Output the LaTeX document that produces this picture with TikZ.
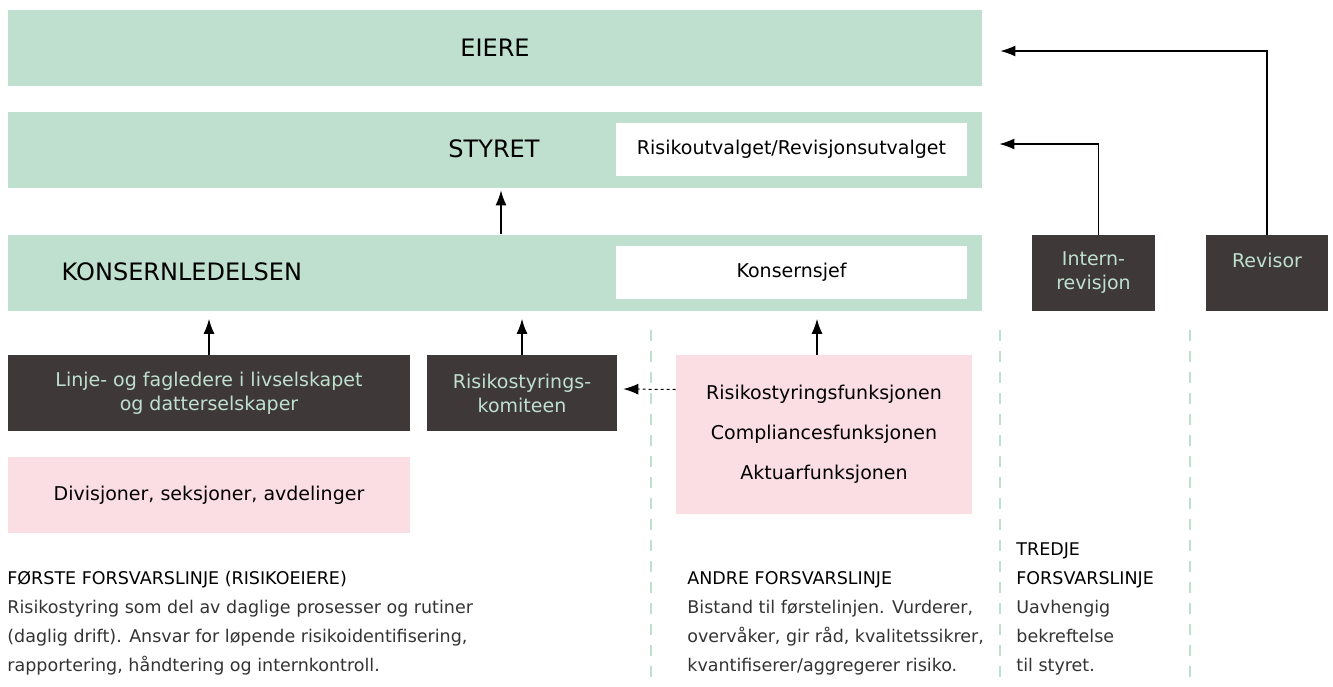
\documentclass[tikz,border=0pt]{standalone}
\usepackage{fontspec}
\setmainfont{DejaVu Sans}
\usetikzlibrary{positioning, arrows.meta}
\definecolor{mint}{RGB}{191,224,207}
\definecolor{coal}{RGB}{62,57,56}
\definecolor{blush}{RGB}{250,222,227}

\begin{document}
\begin{tikzpicture}[x=1pt,y=-1pt,thick]

\tikzstyle{band}=[rectangle, fill=mint, minimum width=974pt, minimum height=76pt, inner sep=0]
\tikzstyle{inner}=[rectangle, fill=white, text=black, minimum width=351pt, minimum height=53pt, font=\fontsize{19}{22}\selectfont]
\tikzstyle{dark}=[rectangle, fill=coal, text=mint, minimum height=76pt, align=center, font=\fontsize{19}{24}\selectfont]
\tikzstyle{pinkbox}=[rectangle, fill=blush, text=black, align=center, font=\fontsize{19}{40}\selectfont]
\tikzstyle{head}=[text=black, font=\fontsize{24}{28}\selectfont]
\tikzstyle{note}=[anchor=base west, align=left, inner sep=0, text=black!80, font=\fontsize{17.5}{29}\selectfont]
\tikzstyle{arr}=[-{Latex[length=15pt,width=11pt]}, line width=1.2pt, black]
\tikzstyle{lane}=[mint, line width=2pt, dash pattern=on 11pt off 10pt]

  \useasboundingbox (0,0) rectangle (1333,686);

	% Bands
	\node[band] (eiere) at (495,48) {};
	\node[head] at (495,48) {EIERE};

	\node[band] (styret) at (495,150) {};
	\node[head] at (494,149) {STYRET};
	\node[inner] (utvalg) at (791.5,149.5) {Risikoutvalget/Revisjonsutvalget};

	\node[band] (konsern) at (495,272.5) {};
	\node[head, anchor=west] at (58,272) {KONSERNLEDELSEN};
	\node[inner] (sjef) at (791.5,272) {Konsernsjef};

	% Control bodies
	\node[dark, minimum width=123pt] (intern) at (1093.5,273) {Intern-\\revisjon};
	\node[dark, minimum width=122pt] (revisor) at (1267,273) {};
	\node[text=mint, font=\fontsize{19}{24}\selectfont, anchor=base] at ([yshift=-33pt]revisor.north) {Revisor};

	% First and second line
	\node[dark, minimum width=402pt] (linje) at (209,393) {Linje- og fagledere i livselskapet\\og datterselskaper};
	\node[dark, minimum width=190pt] (komite) at (522,393) {Risikostyrings-\\komiteen};
	\node[pinkbox, minimum width=296pt, minimum height=159pt] (funk) at (824,434.5) {Risikostyringsfunksjonen\\Compliancesfunksjonen\\Aktuarfunksjonen};
	\node[pinkbox, minimum width=402pt, minimum height=76pt] (divisjon) at (209,495) {Divisjoner, seksjoner, avdelinger};

	% Lane separators
	\draw[lane] (651,330) -- (651,686);
	\draw[lane] (1000,330) -- (1000,686);
	\draw[lane] (1190,330) -- (1190,686);

	% Reporting lines
	\draw[arr] ([xshift=6pt]konsern.north) -- ([xshift=6pt,yshift=-2pt]styret.south);
	\draw[arr] (linje.north) -- ([yshift=-8pt]linje.north |- konsern.south);
	\draw[arr] (komite.north) -- ([yshift=-8pt]komite.north |- konsern.south);
	\draw[arr] ([xshift=-7pt]funk.north) -- ([xshift=-7pt,yshift=-8pt]funk.north |- konsern.south);
	\draw[arr, dashed, line width=1pt] ([yshift=45pt]funk.west) -- ([xshift=6pt,yshift=4pt]komite.east);
	\draw[arr] ([xshift=5pt]intern.north) |- ([xshift=17pt,yshift=6pt]styret.east);
	\draw[arr] (revisor.north) |- ([xshift=18pt,yshift=-3pt]eiere.east);

	% Lines of defence
	\node[note] (forste) at (7,671) {\textcolor{black}{FØRSTE FORSVARSLINJE (RISIKOEIERE)}\\Risikostyring som del av daglige prosesser og rutiner\\(daglig drift). Ansvar for løpende risikoidentifisering,\\rapportering, håndtering og internkontroll.};
	\node[note] (andre) at (687,671) {\textcolor{black}{ANDRE FORSVARSLINJE}\\Bistand til førstelinjen. Vurderer,\\overvåker, gir råd, kvalitetssikrer,\\kvantifiserer/aggregerer risiko.};
	\node[note] (tredje) at (1016,671) {\textcolor{black}{TREDJE}\\\textcolor{black}{FORSVARSLINJE}\\Uavhengig\\bekreftelse\\til styret.};
\end{tikzpicture}
\end{document}
